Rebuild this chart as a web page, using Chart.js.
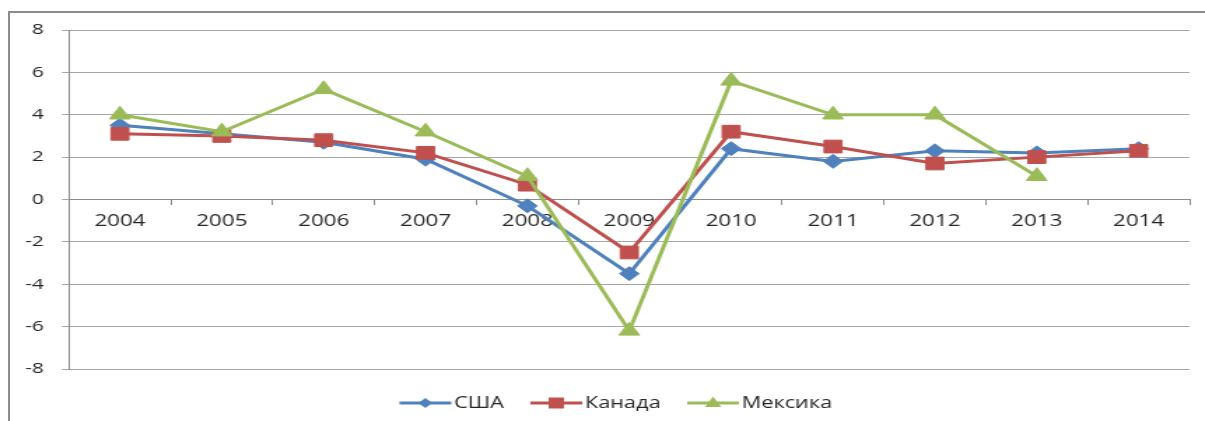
<!DOCTYPE html>
<html>
<head>
<meta charset="utf-8">
<script src="https://cdn.jsdelivr.net/npm/chart.js@4.4.1/dist/chart.umd.min.js"></script>
<style>
  html, body { margin: 0; padding: 0; background: #fff; overflow: hidden; }
  body { width: 1205px; height: 421px; position: relative; }
  #frame { position: absolute; left: 8px; top: 11px; right: -5px; bottom: -5px;
           border-left: 2px solid #8c8c8c; border-top: 2px solid #8c8c8c; }
  /* the original picture is stretched sideways, so draw narrow and scale up */
  #wrap { position: absolute; left: 0; top: 0; width: 861px; height: 421px;
          transform: scaleX(1.3995); transform-origin: 0 0; }
</style>
</head>
<body>
<div id="frame"></div>
<div id="wrap"><canvas id="chart"></canvas></div>
<script>
// DATA
const years = ['2004', '2005', '2006', '2007', '2008', '2009', '2010', '2011', '2012', '2013', '2014'];
const usa = [3.5, 3.1, 2.7, 1.9, -0.3, -3.5, 2.4, 1.8, 2.3, 2.2, 2.4];
const canada = [3.1, 3.0, 2.8, 2.2, 0.7, -2.5, 3.2, 2.5, 1.7, 2.0, 2.3];
const mexico = [4.0, 3.2, 5.2, 3.2, 1.1, -6.2, 5.6, 4.0, 4.0, 1.1, null];
const seriesNames = ['США', 'Канада', 'Мексика'];
const yMin = -8, yMax = 8, yStep = 2;

const FONT = '"Open Sans", "Liberation Sans", sans-serif';
const TEXT = '#262626';
const GRID = '#a6a6a6';
const AXIS = '#8c8c8c';

// marker shapes for the legend
function drawMarker(ctx, style, x, y, r) {
    ctx.beginPath();
    if (style === 'rectRot') {
        ctx.moveTo(x, y - r); ctx.lineTo(x + r, y); ctx.lineTo(x, y + r); ctx.lineTo(x - r, y);
    } else if (style === 'rect') {
        ctx.rect(x - r, y - r, 2 * r, 2 * r);
    } else {
        ctx.moveTo(x, y - r); ctx.lineTo(x + r * 0.9, y + r * 0.6); ctx.lineTo(x - r * 0.9, y + r * 0.6);
    }
    ctx.closePath();
    ctx.fill();
}

// legend with a line and a marker for every series
const lineLegend = {
    id: 'lineLegend',
    afterDraw(chart) {
        const ctx = chart.ctx;
        const y = 403;
        const lineLen = 37, gapText = 2, gapItem = 19;
        ctx.save();
        ctx.font = '15.5px ' + FONT;
        ctx.textBaseline = 'middle';
        ctx.textAlign = 'left';
        const items = chart.data.datasets.map(ds => ({ ds, w: lineLen + gapText + ctx.measureText(ds.label).width }));
        const total = items.reduce((s, it) => s + it.w, 0) + gapItem * (items.length - 1);
        let x = 440 - total / 2;
        items.forEach(it => {
            const ds = it.ds;
            ctx.strokeStyle = ds.borderColor;
            ctx.fillStyle = ds.borderColor;
            ctx.lineWidth = 3;
            ctx.beginPath(); ctx.moveTo(x, y); ctx.lineTo(x + lineLen, y); ctx.stroke();
            drawMarker(ctx, ds.pointStyle, x + lineLen / 2, y, ds.legendSize);
            ctx.fillStyle = TEXT;
            ctx.fillText(ds.label, x + lineLen + gapText, y + 1);
            x += it.w + gapItem;
        });
        ctx.restore();
    }
};

function series(label, data, color, style, radius, legendSize, order) {
    return {
        label: label, data: data, order: order,
        borderColor: color, backgroundColor: color, borderWidth: 3,
        pointStyle: style, pointRadius: radius, pointHoverRadius: radius,
        pointBackgroundColor: color, pointBorderColor: color, pointBorderWidth: 1,
        tension: 0, legendSize: legendSize
    };
}

const ctx = document.getElementById('chart').getContext('2d');
new Chart(ctx, {
    type: 'line',
    data: {
        labels: years,
        datasets: [
            series(seriesNames[0], usa, '#4f81bd', 'rectRot', 7, 5, 3),
            series(seriesNames[1], canada, '#c0504d', 'rect', 9, 5.5, 2),
            series(seriesNames[2], mexico, '#9bbb59', 'triangle', 8.5, 6.5, 1)
        ]
    },
    options: {
        responsive: true, maintainAspectRatio: false, animation: false,
        layout: { padding: { top: 30, right: 11, bottom: 52, left: 0 } },
        plugins: { legend: { display: false }, tooltip: { enabled: false } },
        scales: {
            x: {
                position: { y: 0 }, offset: true,
                grid: { display: true, offset: true, drawOnChartArea: false, tickLength: 5, color: AXIS },
                border: { color: AXIS, width: 1 },
                ticks: { color: TEXT, font: { family: FONT, size: 16 }, padding: 7, maxRotation: 0 }
            },
            y: {
                min: yMin, max: yMax,
                afterFit: s => { s.width = 49.3; },
                grid: { color: GRID, tickLength: 5 },
                border: { color: AXIS, width: 1 },
                ticks: { stepSize: yStep, color: TEXT, font: { family: FONT, size: 15 }, padding: 13 }
            }
        }
    },
    plugins: [lineLegend]
});
</script>
</body>
</html>
